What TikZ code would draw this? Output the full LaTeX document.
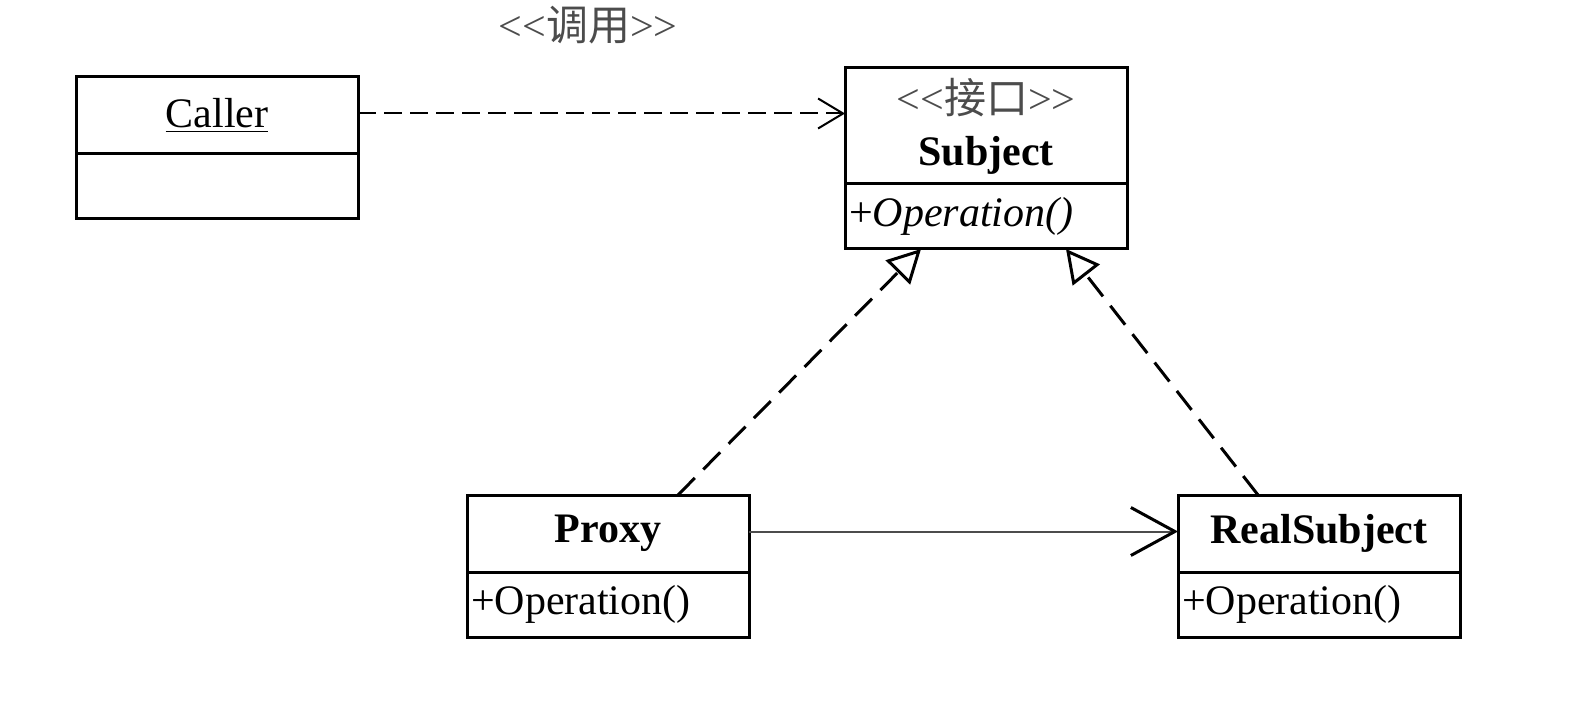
\documentclass[tikz,border=0pt]{standalone}
\usepackage{fontspec}
\setmainfont{Liberation Serif}
\newfontfamily\cjk{Noto Sans CJK SC}
\usetikzlibrary{arrows.meta, calc, positioning}
\newcommand{\lguil}{<\kern0pt<}
\newcommand{\rguil}{>\kern0pt>}

\begin{document}
\begin{tikzpicture}[x=0.5pt, y=-0.5pt, font=\fontsize{21}{26}\selectfont,
	head/.style={draw, line width=1.5pt, minimum width=141pt, minimum height=38.5pt, inner sep=0pt, outer sep=0pt, align=center},
	body/.style={draw, line width=1.5pt, minimum width=141pt, minimum height=32.5pt, text width=137pt, inner xsep=2pt, inner ysep=0pt, outer sep=0pt, align=left, anchor=north},
	stereo/.style={text=black!70},
	realize/.style={line width=1.5pt, dash pattern=on 12pt off 6pt, -{Triangle[open, length=16.5pt, width=17pt, line width=1.5pt, fill=white]}}]
	\useasboundingbox (0,0) rectangle (1582,716);
	% classes
	\node[head] (Chead) at (217,115.5) {\underline{Caller}};
	\node[body] (Cbody) at (Chead.south) {};
	\node[head, minimum height=58pt] (Shead) at (986,126) {{\color{black!70}\lguil\cjk 接口\rmfamily\rguil}\\\textbf{Subject}};
	\node[body] (Sbody) at (Shead.south) {+\textit{Operation()}};
	\node[head] (Phead) at (608,533.5) {\textbf{Proxy}};
	\node[body] (Pbody) at (Phead.south) {+Operation()};
	\node[head] (Rhead) at (1319,533.5) {\textbf{RealSubject}};
	\node[body] (Rbody) at (Rhead.south) {+Operation()};
	\node[stereo] (call) at (588,25) {\lguil{\cjk 调用}\rguil};
	% connectors
	\draw[line width=1pt, dash pattern=on 9pt off 4pt, -{Straight Barb[length=12.5pt, width=15pt, line width=1pt]}]
		($(Chead.east)+(0,-2)$) -- ($(Chead.east -| Shead.west)+(0,-2)$);
	\draw[realize] ($(Phead.north west)+(211,0)$) -- ($(Sbody.south west)+(76,0)$);
	\draw[realize] ($(Rhead.north west)+(80,0)$) -- ($(Sbody.south west)+(221,0)$);
	\draw[black!70, line width=1pt, -{Straight Barb[length=22pt, width=24pt, line width=1.5pt, color=black]}]
		($(Phead.east)+(0,-2)$) -- ($(Phead.east -| Rhead.west)+(0,-2)$);
\end{tikzpicture}
\end{document}
